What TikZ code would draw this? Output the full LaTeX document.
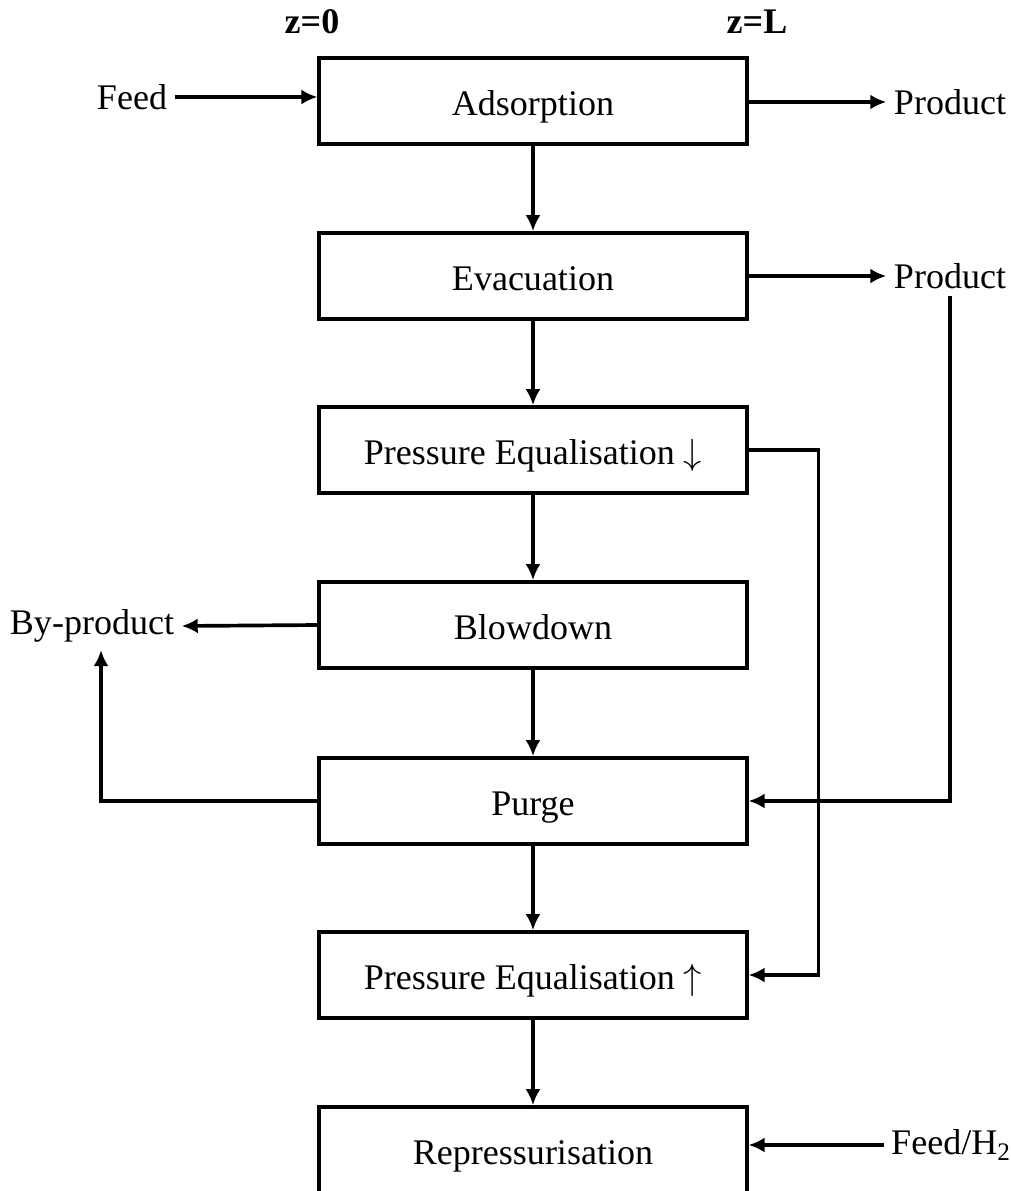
\documentclass[tikz,border=0pt]{standalone}
\usepackage{fontspec}
\setmainfont{Liberation Serif}
\usetikzlibrary{shapes, calc, arrows.meta}

\begin{document}
\begin{tikzpicture}[x=0.02cm, y=-0.02cm, >={Latex[length=0.32cm, width=0.3cm]}, line width=2.1pt,
	every node/.style={font=\fontsize{20.5}{24}\selectfont},
	stepbox/.style={draw, minimum width=8.55cm, minimum height=1.72cm, inner sep=0pt, text height=17pt, text depth=0pt}]

		\clip (0,0) rectangle (1011,1191);

		\node[font=\bfseries\fontsize{20.5}{24}\selectfont] (z0) at (312,22) {z=0};
		\node[font=\bfseries\fontsize{20.5}{24}\selectfont] (zL) at (757,22) {z=L};

		\node[stepbox] (ads) at (533,101) 	{Adsorption};
		\node[stepbox] (evac) at (533,276) 	{Evacuation};
		\node[stepbox] (pedown) at (533,450) 	{Pressure Equalisation $\downarrow$};
		\node[stepbox] (blow) at (533,625) 	{Blowdown};
		\node[stepbox] (purge) at (533,801) 	{Purge};
		\node[stepbox] (peup) at (533,975) 	{Pressure Equalisation $\uparrow$};
		\node[stepbox] (repress) at (533,1150) 	{Repressurisation};

		\node (feed) at (132,97) 		{Feed};
		\node (prod1) at (950,102) 		{Product};
		\node (prod2) at (950,276) 		{Product};
		\node (byprod) at (92,626) 		{By-product};
		\node (feedh) at (951,1145) 		{Feed/H\textsubscript{2}};

		\draw [->] (ads) -- (evac);
		\draw [->] (evac) -- (pedown);
		\draw [->] (pedown) -- (blow);
		\draw [->] (blow) -- (purge);
		\draw [->] (purge) -- (peup);
		\draw [->] (peup) -- (repress);

		\draw [->] (feed.east) -- (feed.east -| ads.west);
		\draw [->] (prod1.west -| ads.east) -- (prod1.west);
		\draw [->] (evac.east) -- (prod2.west);
		\draw [->] (prod2.south) |- (purge.east);
		\draw [->] (pedown.east) -- ++(70,0) |- (peup.east);
		\draw [->] (blow.west) -- (byprod.east);
		\draw [->] (purge.west) -| ($(byprod.south)+(9,0)$);
		\draw [->] (feedh.west) -- (feedh.west -| repress.east);

	\end{tikzpicture}
\end{document}
